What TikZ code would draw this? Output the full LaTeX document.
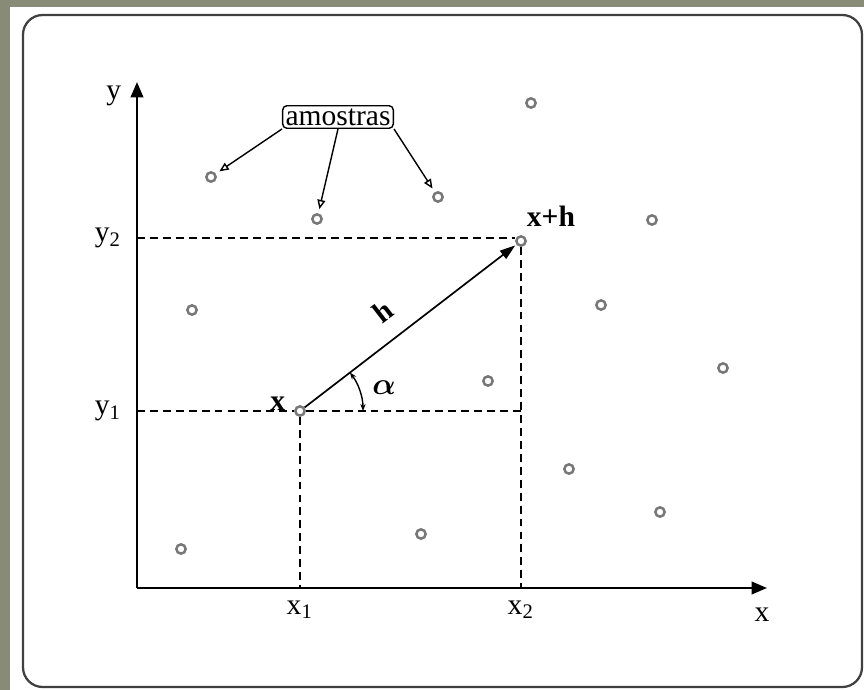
\documentclass[tikz,border=0pt]{standalone}
\usepackage{fontspec}
\setmainfont{Liberation Serif}
\usepackage{amsmath,amssymb}
\usepackage{xcolor}
\usetikzlibrary{arrows.meta, positioning, calc}

\definecolor{slate}{RGB}{137,139,121}
\definecolor{dotgray}{RGB}{120,120,120}

\begin{document}
\begin{tikzpicture}[%
  x=0.0125cm, y=-0.0125cm,
  every node/.style={font=\fontsize{10.5}{12}\selectfont},
  frame/.style={draw=black!75, line width=0.8pt, rounded corners=7pt, fill=white},
  sample/.style={circle, draw=dotgray, line width=0.9pt, fill=white, inner sep=0pt, minimum size=3.3pt},
  axis/.style={line width=0.7pt, -{Triangle[length=5.5pt, width=4.5pt]}},
  guide/.style={line width=0.55pt, dash pattern=on 2.8pt off 1.8pt},
  tag/.style={draw, rounded corners=1.5pt, inner sep=1pt, line width=0.5pt},
  oarr/.style={line width=0.5pt, -{Triangle[open, length=3.3pt, width=2.8pt]}, shorten >=1.5pt},
  harr/.style={line width=0.6pt, -{Triangle[length=5.5pt, width=3.6pt]}, shorten >=0.5pt},
  aarr/.style={line width=0.5pt, {Stealth[length=2.5pt]}-{Stealth[length=2.5pt]}}
]
% background and frame
\fill[slate] (0,0) rectangle (864,690);
\fill[white] (10,7) rectangle (864,690);
\draw[frame] (23,15) rectangle (862,687);

% 1. Axes
\coordinate (o) at (137,588);
\coordinate (xend) at (767,588);
\coordinate (yend) at (137,82);
\draw[axis] (o) -- (xend);
\draw[axis] (o) -- (yend);
\node[anchor=east] (ylab) at (131,96) {y};
\node[anchor=north] (xlab) at (762,598) {x};

% 2. Points x and x+h
\node[sample] (p) at (300,411) {};
\node[sample] (ph) at (521,241) {};
\node[font=\fontsize{10.5}{12}\selectfont\bfseries, anchor=east] (plab) at (295,404) {x};
\node[font=\fontsize{10.5}{12}\selectfont\bfseries, anchor=south west] (phlab) at (517,236) {x+h};

% 3. Projections onto the axes
\coordinate (y1) at (137,411);
\coordinate (y2) at (137,238);
\coordinate (x1) at (300,588);
\coordinate (x2) at (521,588);
\draw[guide] (y2) -- (ph.west |- y2);
\draw[guide] (y1) -- (p.west);
\draw[guide] (p.east) -- (521,411);
\draw[guide] (ph.south) -- (x2);
\draw[guide] (p.south) -- (x1);
\node[left=2pt of y1] (y1lab) {y\textsubscript{1}};
\node[left=2pt of y2] (y2lab) {y\textsubscript{2}};
\node[below=1pt of x1] (x1lab) {x\textsubscript{1}};
\node[below=1pt of x2] (x2lab) {x\textsubscript{2}};

% 4. Vector h and angle alpha
\draw[harr] (p) -- node[pos=0.45, sloped, above=3pt, font=\fontsize{10.5}{12}\selectfont\bfseries] (hlab) {h} (ph);
\draw[aarr] (363,411) arc[start angle=0, end angle=-37.6, radius=63];
\node (alab) at (384,388) {$\boldsymbol{\alpha}$};

% 5. Other samples
\node[sample] (s1) at (211,177) {};
\node[sample] (s2) at (317,219) {};
\node[sample] (s3) at (438,197) {};
\node[sample] (s4) at (531,103) {};
\node[sample] (s5) at (652,220) {};
\node[sample] (s6) at (192,310) {};
\node[sample] (s7) at (601,305) {};
\node[sample] (s8) at (488,381) {};
\node[sample] (s9) at (723,368) {};
\node[sample] (s10) at (569,469) {};
\node[sample] (s11) at (660,512) {};
\node[sample] (s12) at (421,534) {};
\node[sample] (s13) at (181,549) {};

% 6. Label amostras
\node[tag] (amo) at (338,117) {amostras};
\draw[oarr] (amo.south west) -- (s1);
\draw[oarr] (amo.south) -- (s2);
\draw[oarr] (amo.south east) -- (s3);

\end{tikzpicture}
\end{document}
